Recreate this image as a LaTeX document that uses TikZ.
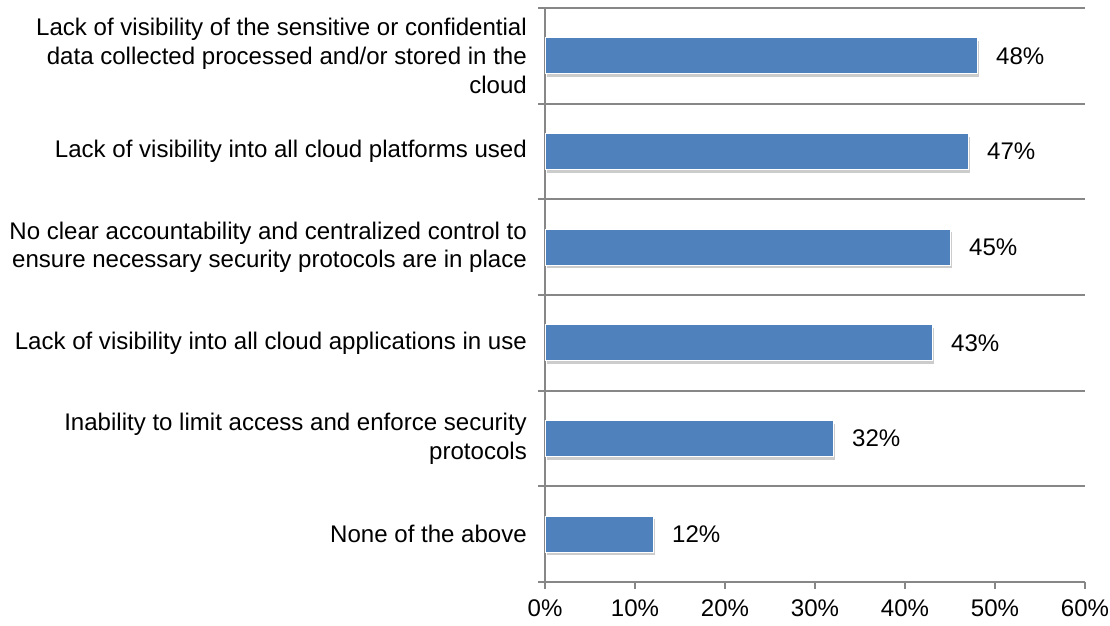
\documentclass[tikz,border=0pt]{standalone}
\usepackage{fontspec}
\setmainfont{Liberation Sans}
\usetikzlibrary{positioning, shadows}

\definecolor{barblue}{HTML}{4F81BD}
\definecolor{axisgray}{HTML}{878787}
\newcommand{\chartfont}{\fontsize{24.05}{28.6}\selectfont}

\tikzset{
  bar/.style={rectangle, fill=barblue, draw=white, line width=0.8pt,
    inner sep=0pt, outer sep=0pt, minimum height=36pt, anchor=west,
    drop shadow={shadow xshift=1.5pt, shadow yshift=-3pt, fill=black, opacity=0.2}},
  axisline/.style={draw=axisgray, line width=1.9pt},
  catlabel/.style={anchor=east, align=right, inner sep=0pt, font=\chartfont},
  pctlabel/.style={inner sep=0pt, font=\chartfont},
  ticklabel/.style={anchor=north, inner sep=0pt, font=\chartfont},
}

\begin{document}
\begin{tikzpicture}[x=1pt, y=-1pt]
\useasboundingbox (0,0) rectangle (1110,625);

% grid lines with the small ticks on the left
\foreach \i in {0,...,5}
  \draw[axisline] (538,{8+95.667*\i}) -- (1085,{8+95.667*\i});

% axes
\draw[axisline] (538,582) -- (1085,582);
\draw[axisline] (545,8) -- (545,589);
\foreach \p in {0,10,...,60}
  \draw[axisline] ({545+9*\p},582) -- ({545+9*\p},589);
\foreach \p in {0,10,...,60}
  \node[ticklabel] (tick\p) at ({545+9*\p},599) {\p\%};

% bars and values
\foreach \v [count=\i] in {48,47,45,43,32,12} {
  \node[bar, minimum width={9*\v}] (bar\i) at (545,{8+95.667*(\i-0.5)}) {};
  \node[pctlabel, right=19pt of bar\i] (pct\i) {\v\%};
}

% category labels
\node[catlabel] (cat1) at (527,{8+95.667*0.5}) {Lack of visibility of the sensitive or confidential\\data collected processed and/or stored in the\\cloud};
\node[catlabel] (cat2) at (527,{8+95.667*1.5}) {Lack of visibility into all cloud platforms used};
\node[catlabel] (cat3) at (527,{8+95.667*2.5}) {No clear accountability and centralized control to\\ensure necessary security protocols are in place};
\node[catlabel] (cat4) at (527,{8+95.667*3.5}) {Lack of visibility into all cloud applications in use};
\node[catlabel] (cat5) at (527,{8+95.667*4.5}) {Inability to limit access and enforce security\\protocols};
\node[catlabel] (cat6) at (527,{8+95.667*5.5}) {None of the above};
\end{tikzpicture}
\end{document}
